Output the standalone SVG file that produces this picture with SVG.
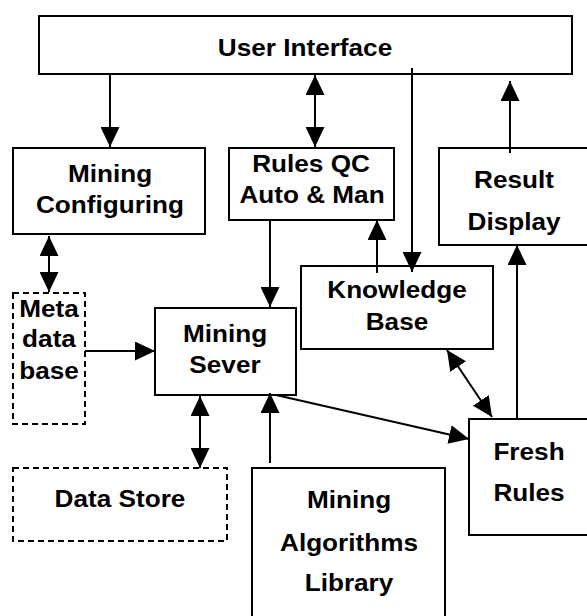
<svg xmlns="http://www.w3.org/2000/svg" width="587" height="616" viewBox="0 0 587 616">
<style>
.box{fill:#fff;stroke:#000;stroke-width:2}
.dash{fill:#fff;stroke:#000;stroke-width:2;stroke-dasharray:6 4}
.t{font-family:"Liberation Sans",Arial,sans-serif;font-weight:bold;font-size:24px;text-anchor:middle;fill:#000}
.c{stroke:#000;stroke-width:2;fill:none}
.e{marker-end:url(#ah)}
.b{marker-start:url(#ah);marker-end:url(#ah)}
</style>
<defs>
<marker id="ah" viewBox="0 0 20 19" refX="20" refY="9.5" markerWidth="20" markerHeight="19" markerUnits="userSpaceOnUse" orient="auto-start-reverse">
<path d="M0,0 L20,9.5 L0,19 z" fill="#000"/>
</marker>
</defs>
<rect width="587" height="616" fill="#fff"/>
<g id="ui"><rect class="box" x="39" y="16" width="533" height="58"/><text class="t" transform="translate(305 56) scale(1.09 1)">User Interface</text></g>
<g id="mining-config"><rect class="box" x="13" y="148" width="192" height="86"/><text class="t" transform="translate(110 182) scale(1.09 1)">Mining</text><text class="t" transform="translate(110 213) scale(1.09 1)">Configuring</text></g>
<g id="rules-qc"><rect class="box" x="229" y="148" width="165" height="72"/><text class="t" transform="translate(311 172) scale(1.09 1)">Rules QC</text><text class="t" transform="translate(312 203) scale(1.09 1)">Auto &amp; Man</text></g>
<g id="result-display"><rect class="box" x="439" y="148" width="150" height="97"/><text class="t" transform="translate(514 188) scale(1.09 1)">Result</text><text class="t" transform="translate(514 230) scale(1.09 1)">Display</text></g>
<g id="knowledge-base"><rect class="box" x="301" y="266" width="192" height="83"/><text class="t" transform="translate(397 298) scale(1.09 1)">Knowledge</text><text class="t" transform="translate(397 330) scale(1.09 1)">Base</text></g>
<g id="meta-db"><rect class="dash" x="13" y="293" width="72" height="131"/><text class="t" transform="translate(49 317) scale(1.09 1)">Meta</text><text class="t" transform="translate(49 347) scale(1.09 1)">data</text><text class="t" transform="translate(49 379) scale(1.09 1)">base</text></g>
<g id="mining-server"><rect class="box" x="155" y="308" width="141" height="87"/><text class="t" transform="translate(225 342) scale(1.09 1)">Mining</text><text class="t" transform="translate(225 373) scale(1.09 1)">Sever</text></g>
<g id="fresh-rules"><rect class="box" x="469" y="419" width="120" height="116"/><text class="t" transform="translate(529 460) scale(1.09 1)">Fresh</text><text class="t" transform="translate(529 501) scale(1.09 1)">Rules</text></g>
<g id="data-store"><rect class="dash" x="13" y="468" width="214" height="73"/><text class="t" transform="translate(120 507) scale(1.09 1)">Data Store</text></g>
<g id="algorithms"><rect class="box" x="252" y="468" width="193" height="160"/><text class="t" transform="translate(349 508) scale(1.09 1)">Mining</text><text class="t" transform="translate(349 551) scale(1.09 1)">Algorithms</text><text class="t" transform="translate(349 591) scale(1.09 1)">Library</text></g>
<g id="connectors">
<line class="c e" x1="110" y1="74" x2="110" y2="147"/>
<line class="c b" x1="315" y1="75" x2="315" y2="147"/>
<line class="c e" x1="412" y1="68" x2="412" y2="272"/>
<line class="c e" x1="510" y1="153" x2="510" y2="81"/>
<line class="c e" x1="377" y1="273" x2="377" y2="220"/>
<line class="c e" x1="270" y1="220" x2="270" y2="307"/>
<line class="c b" x1="49" y1="236" x2="49" y2="292"/>
<line class="c e" x1="85" y1="351" x2="155" y2="351"/>
<line class="c b" x1="200" y1="396" x2="200" y2="468"/>
<line class="c e" x1="270" y1="463" x2="270" y2="393"/>
<line class="c e" x1="276" y1="395" x2="469" y2="439"/>
<line class="c b" x1="447" y1="350" x2="492" y2="417"/>
<line class="c e" x1="517" y1="419" x2="517" y2="245"/>
</g>
</svg>
